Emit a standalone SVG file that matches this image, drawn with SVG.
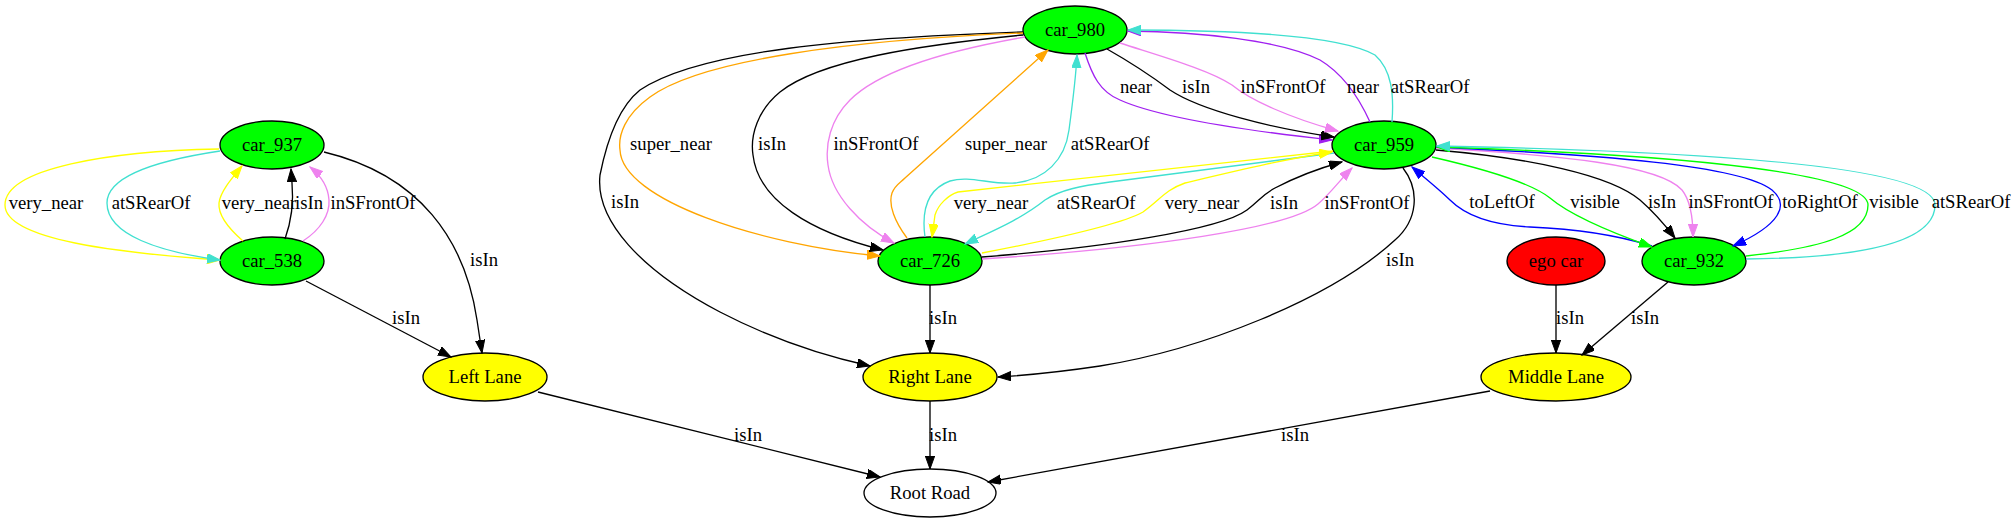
<svg xmlns="http://www.w3.org/2000/svg" width="2016" height="523" viewBox="0 0 2016 523">
<style>
text{font-family:"Liberation Serif","Times New Roman",serif;font-size:18.67px;text-anchor:middle;fill:#000}
.n{stroke:#000;stroke-width:1.33}
.e{fill:none;stroke-width:1.33}
.k{stroke:#000}.y{stroke:#ffff00}.t{stroke:#40e0d0}.v{stroke:#ee82ee}.o{stroke:#ffa500}.p{stroke:#a020f0}.b{stroke:#0000ff}.g{stroke:#00ff00}
</style>
<defs>
<marker id="ak" markerUnits="userSpaceOnUse" markerWidth="14" markerHeight="10" refX="13" refY="4.67" orient="auto"><path d="M0,0 L13,4.67 L0,9.33 z" fill="#000" stroke="#000"/></marker>
<marker id="ay" markerUnits="userSpaceOnUse" markerWidth="14" markerHeight="10" refX="13" refY="4.67" orient="auto"><path d="M0,0 L13,4.67 L0,9.33 z" fill="#ffff00" stroke="#ffff00"/></marker>
<marker id="at" markerUnits="userSpaceOnUse" markerWidth="14" markerHeight="10" refX="13" refY="4.67" orient="auto"><path d="M0,0 L13,4.67 L0,9.33 z" fill="#40e0d0" stroke="#40e0d0"/></marker>
<marker id="av" markerUnits="userSpaceOnUse" markerWidth="14" markerHeight="10" refX="13" refY="4.67" orient="auto"><path d="M0,0 L13,4.67 L0,9.33 z" fill="#ee82ee" stroke="#ee82ee"/></marker>
<marker id="ao" markerUnits="userSpaceOnUse" markerWidth="14" markerHeight="10" refX="13" refY="4.67" orient="auto"><path d="M0,0 L13,4.67 L0,9.33 z" fill="#ffa500" stroke="#ffa500"/></marker>
<marker id="ap" markerUnits="userSpaceOnUse" markerWidth="14" markerHeight="10" refX="13" refY="4.67" orient="auto"><path d="M0,0 L13,4.67 L0,9.33 z" fill="#a020f0" stroke="#a020f0"/></marker>
<marker id="ab" markerUnits="userSpaceOnUse" markerWidth="14" markerHeight="10" refX="13" refY="4.67" orient="auto"><path d="M0,0 L13,4.67 L0,9.33 z" fill="#0000ff" stroke="#0000ff"/></marker>
<marker id="ag" markerUnits="userSpaceOnUse" markerWidth="14" markerHeight="10" refX="13" refY="4.67" orient="auto"><path d="M0,0 L13,4.67 L0,9.33 z" fill="#00ff00" stroke="#00ff00"/></marker>
</defs>
<rect width="2016" height="523" fill="#fff"/>

<g id="car_937"><ellipse class="n" cx="272" cy="145" rx="52" ry="24" fill="#00ff00"/><text x="272" y="151">car_937</text></g>
<g id="car_538"><ellipse class="n" cx="272" cy="261" rx="52" ry="24" fill="#00ff00"/><text x="272" y="267">car_538</text></g>
<g id="left_lane"><ellipse class="n" cx="485" cy="377" rx="62" ry="24" fill="#ffff00"/><text x="485" y="383">Left Lane</text></g>
<g id="car_980"><ellipse class="n" cx="1075" cy="30" rx="52" ry="24" fill="#00ff00"/><text x="1075" y="36">car_980</text></g>
<g id="car_959"><ellipse class="n" cx="1384" cy="145" rx="52" ry="24" fill="#00ff00"/><text x="1384" y="151">car_959</text></g>
<g id="car_726"><ellipse class="n" cx="930" cy="261" rx="52" ry="24" fill="#00ff00"/><text x="930" y="267">car_726</text></g>
<g id="ego_car"><ellipse class="n" cx="1556" cy="261" rx="49" ry="24" fill="#ff0000"/><text x="1556" y="267">ego car</text></g>
<g id="car_932"><ellipse class="n" cx="1694" cy="261" rx="52" ry="24" fill="#00ff00"/><text x="1694" y="267">car_932</text></g>
<g id="right_lane"><ellipse class="n" cx="930" cy="377" rx="67" ry="24" fill="#ffff00"/><text x="930" y="383">Right Lane</text></g>
<g id="middle_lane"><ellipse class="n" cx="1556" cy="377" rx="75" ry="24" fill="#ffff00"/><text x="1556" y="383">Middle Lane</text></g>
<g id="root_road"><ellipse class="n" cx="930" cy="493" rx="66" ry="24" fill="#fff"/><text x="930" y="499">Root Road</text></g>

<g id="connectors">
<!-- left cluster -->
<path class="e y" marker-end="url(#ay)" d="M219,149 C110,151 5,168 5,205 C5,240 120,253 220,260"/>
<path class="e t" marker-end="url(#at)" d="M220,151 C160,160 107,175 107,203 C107,235 160,252 220,260"/>
<path class="e y" marker-end="url(#ay)" d="M243,241 C228,228 218,215 219,203 C220,192 232,178 242,166"/>
<path class="e k" marker-end="url(#ak)" d="M285,239 C290,225 294,205 292,183 L291,169"/>
<path class="e v" marker-end="url(#av)" d="M303,241 C320,230 330,215 329,200 C328,185 320,175 310,167"/>
<path class="e k" marker-end="url(#ak)" d="M324,152 C420,175 465,240 477,320 L482,353"/>
<path class="e k" marker-end="url(#ak)" d="M306,281 L451,357"/>
<path class="e k" marker-end="url(#ak)" d="M538,392 L880,477"/>
<!-- car_980 to left side -->
<path class="e k" marker-end="url(#ak)" d="M1023,32 C850,38 700,50 640,90 C615,110 605,150 600,175 C595,220 640,270 720,312 C770,338 820,355 870,366"/>
<path class="e o" marker-end="url(#ao)" d="M1023,33 C850,40 700,60 650,97 C625,115 618,135 620,150 C622,200 760,245 880,256"/>
<path class="e k" marker-end="url(#ak)" d="M1023,35 C920,45 820,60 780,92 C758,110 750,135 753,155 C758,200 810,232 883,250"/>
<path class="e v" marker-end="url(#av)" d="M1025,37 C950,50 880,70 850,100 C830,120 825,145 828,165 C832,195 860,225 894,243"/>
<path class="e o" marker-end="url(#ao)" d="M907,238 C895,222 888,205 892,193 C895,185 900,183 905,178 L1048,50"/>
<path class="e t" marker-end="url(#at)" d="M925,237 C922,215 925,190 950,181 C970,175 990,185 1015,183 C1045,180 1065,160 1069,130 C1073,100 1076,75 1077,55"/>
<!-- car_980 <-> car_959 -->
<path class="e p" marker-end="url(#ap)" d="M1085,53 C1092,75 1100,92 1120,100 C1160,118 1240,130 1332,140"/>
<path class="e k" marker-end="url(#ak)" d="M1107,49 C1130,62 1150,75 1170,90 C1200,110 1270,128 1334,137"/>
<path class="e v" marker-end="url(#av)" d="M1120,43 C1160,56 1210,70 1232,85 C1250,100 1290,118 1338,131"/>
<path class="e p" marker-end="url(#ap)" d="M1370,122 C1360,100 1345,75 1320,60 C1280,40 1200,32 1128,31"/>
<path class="e t" marker-end="url(#at)" d="M1392,122 C1394,95 1392,70 1375,55 C1340,35 1230,30 1128,30"/>
<!-- car_726 <-> car_959 -->
<path class="e y" marker-end="url(#ay)" d="M1333,151 L958,192 C948,195 938,205 935,215 L932,237"/>
<path class="e t" marker-end="url(#at)" d="M1334,153 L1110,182 C1080,186 1060,190 1045,200 C1020,220 990,232 965,244"/>
<path class="e y" marker-end="url(#ay)" d="M982,253 C1050,240 1120,225 1143,212 C1160,200 1165,190 1185,183 C1240,170 1290,158 1332,152"/>
<path class="e k" marker-end="url(#ak)" d="M982,257 C1100,248 1220,230 1247,210 C1260,200 1262,195 1275,188 C1300,175 1320,168 1342,162"/>
<path class="e v" marker-end="url(#av)" d="M982,259 C1150,248 1290,228 1318,204 C1330,194 1340,180 1352,168"/>
<!-- to lanes -->
<path class="e k" marker-end="url(#ak)" d="M930,285 L930,353"/>
<path class="e k" marker-end="url(#ak)" d="M930,401 L930,469"/>
<path class="e k" marker-end="url(#ak)" d="M1403,168 C1420,190 1418,220 1395,240 C1330,300 1200,350 1100,366 C1060,372 1030,375 998,377"/>
<path class="e k" marker-end="url(#ak)" d="M1556,285 L1556,353"/>
<path class="e k" marker-end="url(#ak)" d="M1668,282 L1582,355"/>
<path class="e k" marker-end="url(#ak)" d="M1490,391 L988,482"/>
<!-- car_959 <-> car_932 -->
<path class="e b" marker-end="url(#ab)" d="M1652,246 C1620,236 1580,229 1530,227 C1490,225 1465,215 1450,200 C1440,190 1425,178 1412,167"/>
<path class="e g" marker-end="url(#ag)" d="M1432,157 C1480,168 1530,182 1550,198 C1570,215 1610,232 1652,247"/>
<path class="e k" marker-end="url(#ak)" d="M1436,150 C1530,158 1610,175 1640,200 C1655,213 1665,225 1675,238"/>
<path class="e v" marker-end="url(#av)" d="M1436,148 C1560,155 1660,165 1682,190 C1690,200 1693,215 1693,237"/>
<path class="e b" marker-end="url(#ab)" d="M1436,147 C1600,155 1740,165 1772,190 C1790,205 1780,225 1733,246"/>
<path class="e g" marker-end="url(#ag)" d="M1746,256 C1820,248 1868,235 1868,205 C1868,175 1700,155 1437,147"/>
<path class="e t" marker-end="url(#at)" d="M1746,259 C1850,258 1935,245 1935,205 C1935,170 1750,152 1437,146"/>
</g>

<g id="edge-labels">
<text x="46" y="209">very_near</text>
<text x="151" y="209">atSRearOf</text>
<text x="259" y="209">very_near</text>
<text x="309" y="209">isIn</text>
<text x="373" y="209">inSFrontOf</text>
<text x="484" y="266">isIn</text>
<text x="406" y="324">isIn</text>
<text x="748" y="441">isIn</text>
<text x="625" y="208">isIn</text>
<text x="671" y="150">super_near</text>
<text x="772" y="150">isIn</text>
<text x="876" y="150">inSFrontOf</text>
<text x="1006" y="150">super_near</text>
<text x="1110" y="150">atSRearOf</text>
<text x="1136" y="93">near</text>
<text x="1196" y="93">isIn</text>
<text x="1283" y="93">inSFrontOf</text>
<text x="1363" y="93">near</text>
<text x="1430" y="93">atSRearOf</text>
<text x="991" y="209">very_near</text>
<text x="1096" y="209">atSRearOf</text>
<text x="1202" y="209">very_near</text>
<text x="1284" y="209">isIn</text>
<text x="1367" y="209">inSFrontOf</text>
<text x="943" y="324">isIn</text>
<text x="943" y="441">isIn</text>
<text x="1400" y="266">isIn</text>
<text x="1502" y="208">toLeftOf</text>
<text x="1595" y="208">visible</text>
<text x="1662" y="208">isIn</text>
<text x="1731" y="208">inSFrontOf</text>
<text x="1820" y="208">toRightOf</text>
<text x="1894" y="208">visible</text>
<text x="1971" y="208">atSRearOf</text>
<text x="1570" y="324">isIn</text>
<text x="1645" y="324">isIn</text>
<text x="1295" y="441">isIn</text>
</g>
</svg>
